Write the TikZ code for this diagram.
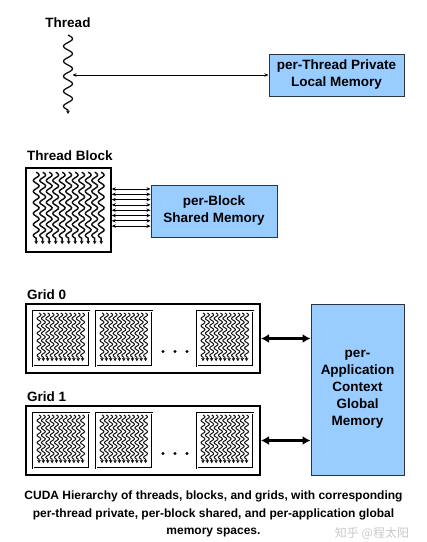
\documentclass[tikz,border=0pt]{standalone}
\usepackage{fontspec}
\setmainfont{Liberation Sans}
\newfontfamily\cjkfont{Noto Sans CJK SC}
\usetikzlibrary{arrows.meta, positioning}
\definecolor{cMem}{HTML}{99CCFF}
\definecolor{cEdge}{HTML}{2B3445}
\definecolor{cWave}{HTML}{111111}

\tikzset{
  wave/.style={draw=cWave, line width=1.45pt, -{Stealth[length=3.4pt, width=3.8pt]}},
  % one block of threads, origin at the block's top left corner
  threadset/.pic={
    \foreach \i in {0,...,10}{
      \draw[wave] plot[variable=\s, domain=0:66, samples=70, smooth]
        ({11+6.5*\i+2.9*sin(32.727*\s)}, {5+\s}) -- ++(0,6);
    }
  },
}

\begin{document}
\begin{tikzpicture}[
    x=1pt, y=-1pt,
    font=\fontsize{13.5}{17}\selectfont\bfseries,
    mem/.style={draw=cEdge, fill=cMem, line width=1pt, align=center,
                inner sep=2pt},
    lbl/.style={inner sep=0pt},
    tbox/.style={draw, line width=1.6pt, minimum width=85pt,
                 minimum height=84pt, inner sep=0pt},
    gbox/.style={draw, line width=2pt, minimum width=234pt,
                 minimum height=69pt, inner sep=0pt},
    sbox/.style={draw, line width=0.7pt, double=white, double distance=0.9pt,
                 minimum width=56pt, minimum height=55pt, inner sep=0pt},
    arr/.style={{Stealth[length=4pt, width=3.5pt]}-{Stealth[length=4pt, width=3.5pt]},
                line width=0.8pt},
    bigarr/.style={{Latex[length=8pt, width=9pt]}-{Latex[length=8pt, width=9pt]},
                   line width=2.2pt},
]
\useasboundingbox (0,0) rectangle (427,542);

% ================================================================
%  Thread + local memory
% ================================================================
\node[lbl] (thrlbl) at (68,23) {Thread};
\draw[wave, line width=1.3pt] plot[variable=\s, domain=0:75, samples=90, smooth]
    ({68+4.5*sin(24*\s)}, {35+\s}) -- ++(0,4);
\coordinate (thr) at (72.5,75);

\node[mem, minimum width=135pt, minimum height=42pt] (lmem) at (336.5,75)
    {per-Thread Private\\Local Memory};

\draw[arr] (thr) -- (lmem.west);

% ================================================================
%  Thread block + shared memory
% ================================================================
\node[lbl, anchor=west] (tblbl) at (27,156) {Thread Block};
\node[tbox] (tblock) at (68.5,210) {};
\pic at (tblock.north west) {threadset};

\node[mem, minimum width=126pt, minimum height=52pt] (smem) at (214,211)
    {per-Block\\Shared Memory};

\foreach \k in {0,...,7}
  \draw[arr, line width=0.7pt] (tblock.east |- 0,{189+5.3*\k}) -- (smem.west |- 0,{189+5.3*\k});

% ================================================================
%  Grids + global memory
% ================================================================
\node[mem, minimum width=93pt, minimum height=171pt] (gmem) at (357.5,389.5)
    {per-\\Application\\Context\\Global\\Memory};

\foreach \g/\yc in {0/338.5, 1/440.5}{
  \node[lbl, anchor=west] (glbl\g) at (27,{\yc-43.5}) {Grid \g};
  \node[gbox] (grid\g) at (143,\yc) {};
  \foreach \b/\xc in {0/61, 1/124, 2/225}{
    \node[sbox] (blk\g\b) at (\xc,\yc) {};
    \pic[scale=0.67, wave/.append style={line width=1pt}] at ([shift={(-1,-1)}]blk\g\b.north west) {threadset};
  }
  \foreach \d in {163,175,187}
    \fill (\d,{\yc+13}) circle (1.7pt);
  \draw[bigarr] (grid\g.east) -- (gmem.west |- grid\g.east);
}

% ================================================================
%  Caption
% ================================================================
\node[align=center, font=\fontsize{12}{17.5}\selectfont\bfseries] (cap) at (213.5,514)
    {CUDA Hierarchy of threads, blocks, and grids, with corresponding\\
     per-thread private, per-block shared, and per-application global\\
     memory spaces.};

\node[text=gray!60, opacity=0.7, font=\cjkfont\fontsize{12}{12}\selectfont] (wm) at (372,533)
    {知乎 @程太阳};

\end{tikzpicture}
\end{document}
